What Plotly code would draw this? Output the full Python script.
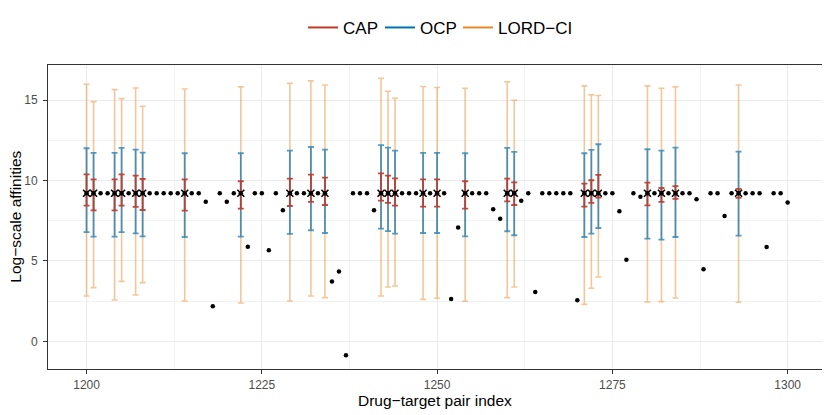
import plotly.graph_objects as go

# ---- data ----
pair_index = list(range(1200, 1301))
true_affinity = [
    9.21, 9.21, 9.21, 9.21, 9.21, 9.21, 9.21, 9.21, 9.21, 9.21,   # 1200-1209
    9.21, 9.21, 9.21, 9.21, 9.21, 9.21, 9.21, 8.69, 2.18, 9.21,   # 1210-1219
    8.69, 9.21, 9.21, 5.88, 9.21, 9.21, 5.66, 9.21, 8.16, 9.21,   # 1220-1229
    9.21, 9.21, 9.21, 9.21, 9.21, 3.73, 4.34, -0.87, 9.21, 9.21,  # 1230-1239
    9.21, 8.15, 9.21, 9.21, 9.21, 9.21, 9.21, 9.21, 9.21, 9.21,   # 1240-1249
    9.21, 9.21, 2.63, 7.08, 9.21, 9.21, 9.21, 9.21, 8.21, 7.63,   # 1250-1259
    9.21, 9.21, 8.75, 9.21, 3.07, 9.21, 9.21, 9.21, 9.21, 9.21,   # 1260-1269
    2.55, 9.21, 9.21, 9.21, 9.21, 9.21, 8.09, 5.08, 9.21, 9.00,   # 1270-1279
    9.21, 9.21, 9.21, 9.21, 9.21, 9.21, 9.21, 8.84, 4.48, 9.21,   # 1280-1289
    9.21, 7.80, 9.21, 9.21, 9.21, 9.21, 9.21, 5.87, 9.21, 9.21,   # 1290-1299
    8.63,                                                         # 1300
]

interval_index = [1200, 1201, 1204, 1205, 1207, 1208, 1214, 1222, 1229, 1232,
                  1234, 1242, 1243, 1244, 1248, 1250, 1254, 1260, 1261, 1271,
                  1272, 1273, 1280, 1282, 1284, 1293]
interval_true = [9.21] * len(interval_index)

lord_lower = [2.82, 3.34, 2.57, 3.73, 2.88, 3.65, 2.51, 2.39, 2.51, 2.82,
              2.72, 2.82, 3.38, 3.44, 2.61, 2.68, 2.49, 2.72, 3.38, 2.30,
              3.30, 4.00, 2.45, 2.47, 2.70, 2.43]
lord_upper = [15.99, 14.91, 15.66, 15.10, 15.76, 14.62, 15.70, 15.83, 16.05, 16.20,
              15.95, 16.37, 15.56, 15.12, 15.85, 15.79, 15.74, 16.14, 15.00, 15.89,
              15.33, 15.29, 15.89, 15.74, 15.83, 15.95]
ocp_lower = [6.80, 6.51, 6.51, 6.80, 6.72, 6.53, 6.49, 6.51, 6.68, 6.91,
             6.74, 7.01, 6.86, 6.70, 6.74, 6.74, 6.53, 6.85, 6.60, 6.49,
             6.70, 7.05, 6.39, 6.33, 6.49, 6.58]
ocp_upper = [12.01, 11.72, 11.72, 12.03, 11.93, 11.74, 11.70, 11.70, 11.87, 12.09,
             11.93, 12.20, 12.05, 11.87, 11.72, 11.72, 11.70, 12.03, 11.78, 11.70,
             11.91, 12.26, 11.95, 11.87, 12.05, 11.80]
cap_lower = [8.44, 8.15, 8.15, 8.44, 8.36, 8.17, 8.13, 8.26, 8.42, 8.67,
             8.48, 8.75, 8.61, 8.44, 8.38, 8.38, 8.26, 8.71, 8.48, 8.38,
             8.61, 8.94, 8.46, 8.67, 8.86, 8.92]
cap_upper = [10.39, 10.08, 10.08, 10.39, 10.31, 10.10, 10.08, 9.96, 10.12, 10.37,
             10.18, 10.45, 10.31, 10.14, 10.08, 10.08, 9.96, 10.12, 9.89, 9.81,
             10.02, 10.35, 9.87, 9.54, 9.66, 9.48]

series_names = ["CAP", "OCP", "LORD\u2212CI"]
legend_colors = ["#C0392B", "#0072B2", "#E8892B"]
bar_colors = ["rgba(192,57,43,0.92)", "rgba(0,114,178,0.68)", "rgba(232,137,43,0.48)"]
bar_thickness = [1.8, 1.8, 1.6]

FONT = "Liberation Sans, Arial, Helvetica, sans-serif"

fig = go.Figure()

bounds = [
    (cap_lower, cap_upper),
    (ocp_lower, ocp_upper),
    (lord_lower, lord_upper),
]

# draw widest first so narrower intervals stay on top
for k in [2, 1, 0]:
    lo, up = bounds[k]
    fig.add_trace(go.Scatter(
        x=interval_index, y=lo, mode="markers",
        marker=dict(color="rgba(0,0,0,0)", size=1),
        error_y=dict(type="data", symmetric=False,
                     array=[u - l for u, l in zip(up, lo)],
                     arrayminus=[0] * len(lo),
                     color=bar_colors[k], thickness=bar_thickness[k], width=3),
        showlegend=False, hoverinfo="skip",
    ))

# legend entries, one legend box each so their spacing can be set
legend_ids = ["legend", "legend2", "legend3"]
for k in range(3):
    fig.add_trace(go.Scatter(
        x=[None], y=[None], mode="lines", name=series_names[k],
        line=dict(color=legend_colors[k], width=2),
        legend=legend_ids[k],
    ))

# true affinities (dots)
fig.add_trace(go.Scatter(
    x=pair_index, y=true_affinity, mode="markers",
    marker=dict(color="black", size=4.5),
    showlegend=False,
))
# crosses at points with intervals
fig.add_trace(go.Scatter(
    x=interval_index, y=interval_true, mode="markers",
    marker=dict(symbol="x-thin-open", color="black", size=7,
                line=dict(color="black", width=1.6)),
    showlegend=False,
))

axis_common = dict(
    showline=True, mirror=True, linecolor="#333333", linewidth=1,
    ticks="outside", ticklen=4, tickcolor="#333333", tickwidth=1,
    tickfont=dict(family=FONT, size=12, color="#4D4D4D"),
    showgrid=True, gridcolor="#EBEBEB", gridwidth=1.2,
    zeroline=False, automargin=False,
)

legend_style = dict(orientation="h", xanchor="left", y=1.122, yanchor="middle",
                    font=dict(family=FONT, size=17, color="black"),
                    itemwidth=30, bgcolor="rgba(0,0,0,0)")

# the page body adds an 8px offset, so margins are shifted to compensate
fig.update_layout(
    width=830, height=415,
    margin=dict(l=40, r=16, t=57, b=54, autoexpand=False),
    paper_bgcolor="white", plot_bgcolor="white",
    font=dict(family=FONT, color="black"),
    xaxis=dict(range=[1194.5, 1304.9], tick0=1200, dtick=25,
               ticklabelstandoff=1,
               minor=dict(dtick=12.5, tick0=1200, showgrid=True,
                          gridcolor="#F2F2F2", gridwidth=0.8),
               **axis_common),
    yaxis=dict(range=[-1.72, 17.19], tick0=0, dtick=5,
               ticklabelstandoff=3,
               minor=dict(dtick=2.5, tick0=0, showgrid=True,
                          gridcolor="#F2F2F2", gridwidth=0.8),
               **axis_common),
    legend=dict(x=0.3295, **legend_style),
    legend2=dict(x=0.4289, **legend_style),
    legend3=dict(x=0.5297, **legend_style),
    showlegend=True,
    annotations=[
        dict(text="Drug\u2212target pair index", xref="paper", yref="paper",
             x=0.5, y=-0.103, xanchor="center", yanchor="middle", showarrow=False,
             font=dict(family=FONT, size=15.5, color="black")),
        dict(text="Log\u2212scale affinities", xref="paper", yref="paper",
             x=-0.043, y=0.5, xanchor="center", yanchor="middle", showarrow=False,
             textangle=-90, font=dict(family=FONT, size=15.5, color="black")),
    ],
)

fig.write_html("out.html")
